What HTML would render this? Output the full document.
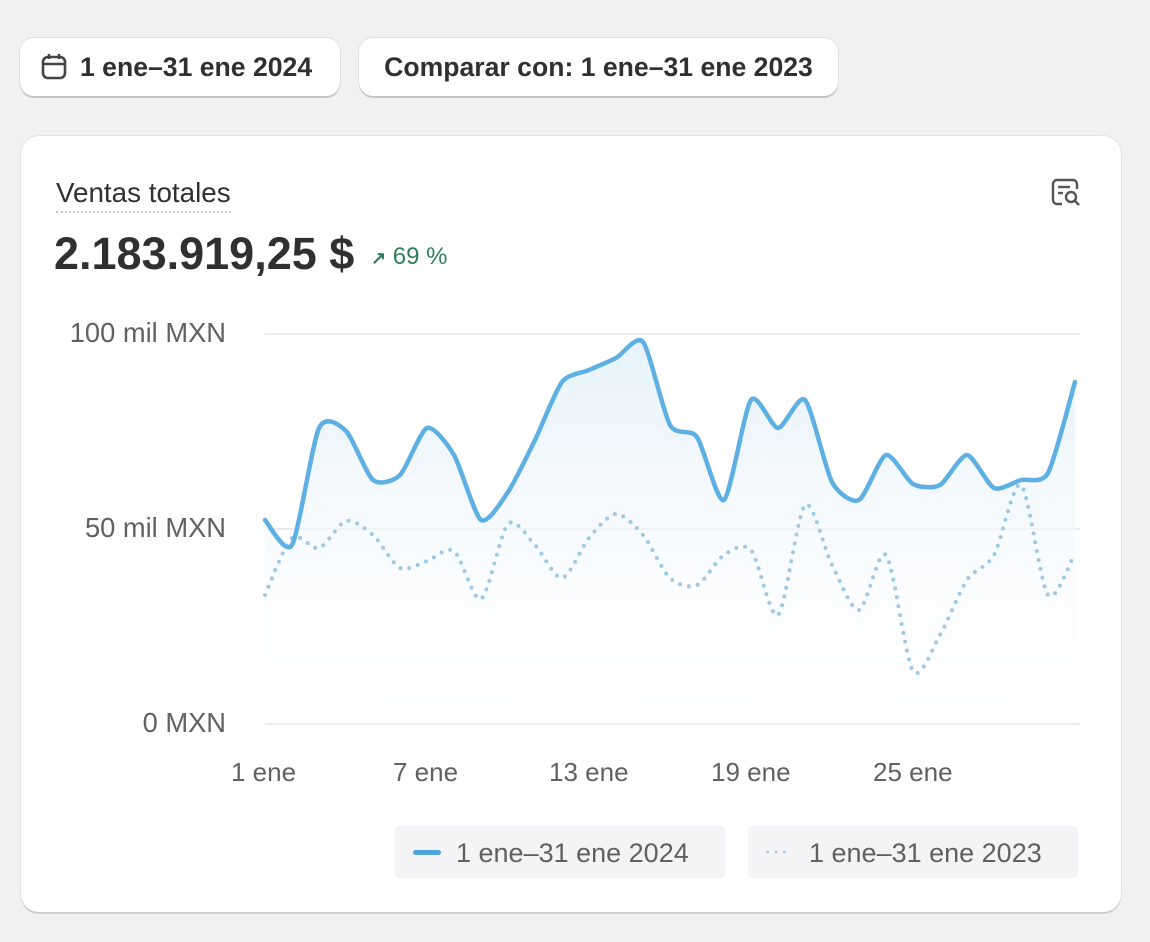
<!DOCTYPE html>
<html><head><meta charset="utf-8"><style>
*{box-sizing:border-box;margin:0;padding:0}
body{width:1150px;height:942px;background:#f1f1f1;font-family:"Liberation Sans",sans-serif;position:relative;overflow:hidden;color:#303030}
.btn{position:absolute;top:38px;height:58px;background:#fff;border-radius:14px;box-shadow:0 2px 0 #c4c4c4,0 0 0 1px #e0e0e0;font-size:26.6px;font-weight:bold;color:#303030;line-height:58px}
.card{position:absolute;left:21px;top:136px;width:1100px;height:776px;background:#fff;border-radius:18px;box-shadow:0 2px 0 #cfcfcf,0 0 0 1px #e2e2e2}
.t{position:absolute;white-space:nowrap}
.leg{position:absolute;top:826px;height:52px;background:#f4f4f6;border-radius:4px;font-size:27px;color:#616161;line-height:54px}
.yl{position:absolute;left:0;width:226px;text-align:right;font-size:27.3px;color:#616161}
.xl{position:absolute;font-size:26px;color:#616161}
</style></head><body>
<div class="btn" style="left:20px;width:320px">
<svg style="position:absolute;left:20px;top:15px" width="28" height="28" viewBox="0 0 28 28"><rect x="3" y="4" width="22" height="21" rx="5" fill="none" stroke="#444" stroke-width="2.6"/><line x1="3" y1="11" x2="25" y2="11" stroke="#444" stroke-width="2.6"/><line x1="9" y1="1" x2="9" y2="6" stroke="#444" stroke-width="2.6"/><line x1="19" y1="1" x2="19" y2="6" stroke="#444" stroke-width="2.6"/></svg>
<span style="position:absolute;left:60px">1 ene–31 ene 2024</span></div>
<div class="btn" style="left:359px;width:479px;text-align:center">Comparar con: 1 ene–31 ene 2023</div>
<div class="card"></div>
<div class="t" style="left:56px;top:177px;font-size:27.8px;color:#303030;border-bottom:2px dotted #c8c8c8;padding-bottom:2px">Ventas totales</div>
<svg style="position:absolute;left:1050px;top:178px" width="34" height="30" viewBox="0 0 34 30"><path d="M12 26H7a4 4 0 0 1-4-4V6a4 4 0 0 1 4-4h16a4 4 0 0 1 4 4v5" fill="none" stroke="#555" stroke-width="2.4"/><line x1="8" y1="9" x2="20" y2="9" stroke="#555" stroke-width="2.4"/><line x1="8" y1="15" x2="13" y2="15" stroke="#555" stroke-width="2.4"/><circle cx="21" cy="19" r="5" fill="none" stroke="#555" stroke-width="2.4"/><line x1="25" y1="23" x2="29" y2="27" stroke="#555" stroke-width="2.6"/></svg>
<div class="t" style="left:54px;top:228px;font-size:45px;font-weight:bold;color:#303030">2.183.919,25 $</div>
<div class="t" style="left:371px;top:243px;font-size:24px;color:#2f7d5a"><span style="font-weight:bold;font-size:18px">↗</span> 69 %</div>
<div class="yl" style="top:317px">100 mil MXN</div>
<div class="yl" style="top:512px">50 mil MXN</div>
<div class="yl" style="top:707px">0 MXN</div>
<div class="xl" style="left:231px;top:757px">1 ene</div>
<div class="xl" style="left:393px;top:757px">7 ene</div>
<div class="xl" style="left:549px;top:757px">13 ene</div>
<div class="xl" style="left:711px;top:757px">19 ene</div>
<div class="xl" style="left:873px;top:757px">25 ene</div>
<svg id="ch" style="position:absolute;left:0;top:0" width="1150" height="942">
<defs><linearGradient id="g" x1="0" y1="0" x2="0" y2="1"><stop offset="0" stop-color="#e6f2fa"/><stop offset="1" stop-color="#ffffff" stop-opacity="0.3"/></linearGradient></defs>
<line x1="265" y1="334" x2="1080" y2="334" stroke="#e8e8e8" stroke-width="1.5"/>
<line x1="265" y1="529" x2="1080" y2="529" stroke="#e3e3e3" stroke-width="1.5"/>
<line x1="265" y1="724" x2="1080" y2="724" stroke="#e3e3e3" stroke-width="1.5"/>
<path id="area" fill="url(#g)"/>
<path id="prev" fill="none" stroke="#9ec9e6" stroke-width="4" stroke-linecap="round" stroke-dasharray="0 9"/>
<path id="cur" fill="none" stroke="#5eb0e3" stroke-width="4.5" stroke-linecap="round"/>
</svg>
<div class="leg" style="left:395px;width:330px"><span style="position:absolute;left:18px;top:24px;width:28px;height:5px;border-radius:3px;background:#4fa3dc"></span><span style="position:absolute;left:61px">1 ene–31 ene 2024</span></div>
<div class="leg" style="left:748px;width:330px"><span style="position:absolute;left:16px;top:14px;font-size:22px;color:#9ec9e6;line-height:22px;letter-spacing:1px">···</span><span style="position:absolute;left:61px">1 ene–31 ene 2023</span></div>
<script>
var c=[520,545,428,431,480,475,428,455,520,492,440,382,370,358,342,425,437,500,400,428,400,482,500,455,484,485,455,488,480,473,382];
var p=[595,538,548,521,535,568,561,551,599,524,545,578,538,514,535,578,585,555,550,615,505,565,610,555,671,635,580,555,485,595,553];
function path(v,t){var pts=v.map(function(y,i){return[265+i*27,y]});var d="M"+pts[0][0]+","+pts[0][1];
for(var i=0;i<pts.length-1;i++){var p0=pts[Math.max(0,i-1)],p1=pts[i],p2=pts[i+1],p3=pts[Math.min(pts.length-1,i+2)];
d+=" C"+(p1[0]+(p2[0]-p0[0])*t)+","+(p1[1]+(p2[1]-p0[1])*t)+" "+(p2[0]-(p3[0]-p1[0])*t)+","+(p2[1]-(p3[1]-p1[1])*t)+" "+p2[0]+","+p2[1];}return d;}
var dc=path(c,0.12);document.getElementById("cur").setAttribute("d",dc);
document.getElementById("prev").setAttribute("d",path(p,0.14));
document.getElementById("area").setAttribute("d",dc+" L1075,724 L265,724 Z");
</script>
</body></html>
